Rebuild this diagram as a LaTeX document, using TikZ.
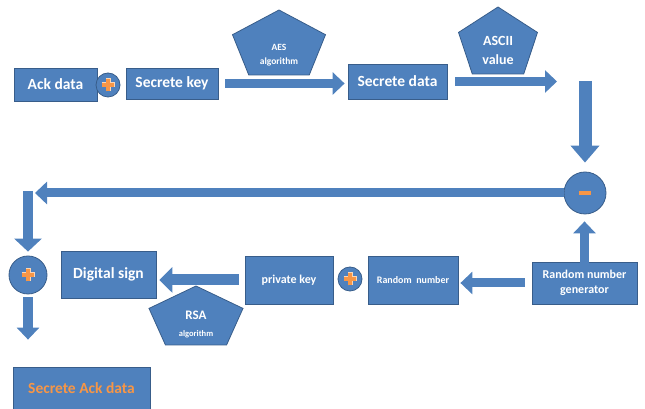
\documentclass[tikz,border=0pt]{standalone}
\usepackage{fontspec}
\setmainfont{Carlito}
\usepackage{tikz}
\usetikzlibrary{arrows.meta, positioning, shapes.geometric, backgrounds}
\definecolor{boxblue}{RGB}{79, 129, 189}
\definecolor{boxedge}{RGB}{56, 93, 138}
\definecolor{signorange}{RGB}{247, 150, 70}
\definecolor{signglow}{RGB}{252, 214, 180}
\tikzset{
    blk/.style={draw=boxedge, fill=boxblue, text=white, line width=0.8pt, inner sep=2pt, align=center,
        font=\bfseries\fontsize{15.5}{18}\selectfont},
    op/.style={circle, draw=boxedge, fill=boxblue, line width=0.8pt, inner sep=0pt},
    plusop/.style={op, path picture={
        \draw[signglow, line width=5pt] ([xshift=-6.5pt]path picture bounding box.center) -- ([xshift=6.5pt]path picture bounding box.center)
            ([yshift=-6.5pt]path picture bounding box.center) -- ([yshift=6.5pt]path picture bounding box.center);
        \draw[signorange, line width=3.2pt] ([xshift=-6pt]path picture bounding box.center) -- ([xshift=6pt]path picture bounding box.center)
            ([yshift=-6pt]path picture bounding box.center) -- ([yshift=6pt]path picture bounding box.center);}},
    minusop/.style={op, path picture={
        \draw[signorange, line width=3.5pt] ([xshift=-6pt]path picture bounding box.center) -- ([xshift=6pt]path picture bounding box.center);}},
    pentlbl/.style={text=white, align=center, inner sep=0pt, font=\bfseries},
    pentfill/.style={draw=boxedge, fill=boxblue, line width=0.8pt},
    conn/.style={boxblue, line width=9pt, -{Triangle[width=22pt, length=12pt]}},
}
% pentagon round a label: name, half width, rise of the tip, drop of the base
\newcommand{\pentshape}[4]{%
    \filldraw[pentfill] ([shift={(0,#3)}]#1.center)
        -- ([shift={({-#2},{#3-0.38*(#3+#4)})}]#1.center)
        -- ([shift={({-0.65*#2},{-#4})}]#1.center)
        -- ([shift={({0.65*#2},{-#4})}]#1.center)
        -- ([shift={({#2},{#3-0.38*(#3+#4)})}]#1.center) -- cycle;}

\begin{document}
\begin{tikzpicture}[x=1pt, y=1pt]
    \useasboundingbox (0,0) rectangle (645,409);

    % top row
    \node[blk, minimum width=83pt, minimum height=33pt] (ackd) at (55.5,324.5) {Ack data};
    \node[plusop, minimum size=24pt] (plusa) at (108,324) {};
    \node[blk, minimum width=92pt, minimum height=31pt] (skey) at (172,325.5) {Secrete key};
    \node[pentlbl, font=\bfseries\fontsize{9.5}{11}\selectfont] (aes) at (279,354) {AES\\[3pt]algorithm};
    \node[blk, minimum width=99pt, minimum height=35pt] (sdata) at (397.5,327.5) {Secrete data};
    \node[pentlbl, font=\bfseries\fontsize{14}{16}\selectfont] (ascii) at (498,359) {ASCII\\[3pt]value};
    \coordinate (ascend) at (557,327.5);
    \coordinate (drop) at (585,328);

    % right side and bottom row
    \node[minusop, minimum size=42pt] (minus) at (585,216) {};
    \node[blk, minimum width=105pt, minimum height=42pt, font=\bfseries\fontsize{12}{15}\selectfont] (rng) at (584.5,126) {Random number\\generator};
    \node[blk, minimum width=90pt, minimum height=48pt, font=\bfseries\fontsize{10}{12}\selectfont] (rnum) at (413,129) {Random\ \ number};
    \node[plusop, minimum size=24pt] (plusc) at (350,130) {};
    \node[blk, minimum width=88pt, minimum height=48pt, font=\bfseries\fontsize{12}{15}\selectfont] (pkey) at (289,129) {private key};
    \node[pentlbl, font=\bfseries\fontsize{13}{15}\selectfont] (rsa) at (196,85) {RSA\\[2pt]{\fontsize{8.5}{10}\selectfont algorithm}};
    \node[blk, minimum width=95pt, minimum height=47pt] (dsign) at (108.5,134.5) {Digital sign};

    % left side
    \coordinate (corner) at (28,214);
    \node[plusop, minimum size=38pt] (plusb) at (28,134) {};
    \node[blk, minimum width=137pt, minimum height=43pt, text=signorange] (ackout) at (81.5,20.5) {Secrete Ack data};

    \begin{scope}[on background layer]
        \pentshape{aes}{46.5}{45}{20}
        \pentshape{ascii}{39.5}{43}{24}
        \pentshape{rsa}{47}{38}{21}
    \end{scope}

    \draw[conn, shorten <=7pt, shorten >=3pt] (skey.east) -- (skey.east -| sdata.west);
    \draw[conn, shorten <=8pt] (sdata.east) -- (ascend);
    \draw[conn, line width=13pt, -{Triangle[width=28pt, length=17pt]}, shorten >=9pt] (drop) -- (minus.north);
    \draw[conn, shorten >=7pt] (minus.west) -- (minus.west -| corner);
    \draw[conn, line width=10pt, -{Triangle[width=27pt, length=13pt]}, shorten <=-4pt, shorten >=4pt] (corner) -- (plusb.north);
    \draw[conn, line width=10pt, shorten <=3pt, shorten >=27pt] (plusb.south) -- (plusb.south |- ackout.north);
    \draw[conn, line width=11pt, -{Triangle[width=25pt, length=13pt]}, shorten <=6pt, shorten >=3pt] (pkey.west) -- (pkey.west -| dsign.east);
    \draw[conn, shorten <=7pt, shorten >=2pt] (rng.west) -- (rng.west -| rnum.east);
    \draw[conn, shorten <=-4pt, shorten >=7pt] (rng.north) -- (rng.north |- minus.south);
\end{tikzpicture}
\end{document}
